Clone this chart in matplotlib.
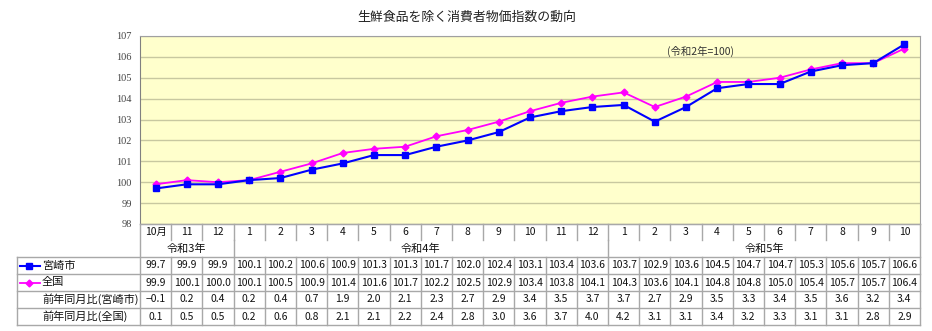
import numpy as np
import matplotlib.pyplot as plt

plt.rcParams['font.family'] = ['Noto Sans CJK JP', 'DejaVu Sans']

months = ['10月', '11', '12', '1', '2', '3', '4', '5', '6', '7', '8', '9', '10', '11', '12',
          '1', '2', '3', '4', '5', '6', '7', '8', '9', '10']
years = [('令和3年', 0, 2), ('令和4年', 3, 14), ('令和5年', 15, 24)]

miyazaki = [99.7, 99.9, 99.9, 100.1, 100.2, 100.6, 100.9, 101.3, 101.3, 101.7, 102.0, 102.4,
            103.1, 103.4, 103.6, 103.7, 102.9, 103.6, 104.5, 104.7, 104.7, 105.3, 105.6, 105.7, 106.6]
zenkoku = [99.9, 100.1, 100.0, 100.1, 100.5, 100.9, 101.4, 101.6, 101.7, 102.2, 102.5, 102.9,
           103.4, 103.8, 104.1, 104.3, 103.6, 104.1, 104.8, 104.8, 105.0, 105.4, 105.7, 105.7, 106.4]
yoy_miyazaki = [-0.1, 0.2, 0.4, 0.2, 0.4, 0.7, 1.9, 2.0, 2.1, 2.3, 2.7, 2.9,
                3.4, 3.5, 3.7, 3.7, 2.7, 2.9, 3.5, 3.3, 3.4, 3.5, 3.6, 3.2, 3.4]
yoy_zenkoku = [0.1, 0.5, 0.5, 0.2, 0.6, 0.8, 2.1, 2.1, 2.2, 2.4, 2.8, 3.0,
               3.6, 3.7, 4.0, 4.2, 3.1, 3.1, 3.4, 3.2, 3.3, 3.1, 3.1, 2.8, 2.9]

W, H = 932, 331
fig = plt.figure(figsize=(W / 100, H / 100), dpi=100)

# pixel layout
left, right = 140, 920
top, bottom = 36, 224
n = len(months)

ax = fig.add_axes([left / W, 1 - bottom / H, (right - left) / W, (bottom - top) / H])
ax.set_facecolor('#FFFFCC')
x = np.arange(n)
ax.plot(x, zenkoku, color='#FF00FF', lw=1.3, marker='D', ms=3.5, zorder=3)
ax.plot(x, miyazaki, color='#0000FF', lw=1.5, marker='s', ms=5, zorder=4)
ax.set_xlim(-0.5, n - 0.5)
ax.set_ylim(98, 107)
ax.set_yticks(range(98, 108))
ax.set_xticks([])
ax.grid(axis='y', color='#C8C8A0', lw=1)
ax.set_axisbelow(True)
ax.tick_params(axis='y', length=0, pad=6, labelsize=7.5, labelcolor='#444444')
for lab in ax.get_yticklabels():
    lab.set_family('Liberation Serif')
for s in ['top', 'right']:
    ax.spines[s].set_color('#A0A0A0')
ax.spines['bottom'].set_color('#A0A0A0')
ax.spines['left'].set_color('#808080')
ax.text(0.718, 0.95, '(令和2年=100)', transform=ax.transAxes, fontsize=7.5,
        color='#333333', ha='center', va='top')

fig.text(467 / W, 1 - 17 / H, '生鮮食品を除く消費者物価指数の動向', ha='center', va='center',
         fontsize=9.3, color='#222222')

# table drawn in pixel coordinates
tab = fig.add_axes([0, 0, 1, 1])
tab.set_xlim(0, W)
tab.set_ylim(H, 0)
tab.axis('off')

cw = (right - left) / n
label_left = 17
rows_y = [224, 240, 257, 274, 291, 308, 325]
lc = '#A8A8A8'

# horizontal lines
tab.plot([left, right], [rows_y[0], rows_y[0]], color=lc, lw=1)
for yy in rows_y[2:]:
    tab.plot([label_left, right], [yy, yy], color=lc, lw=1)
# outer verticals
tab.plot([left, left], [rows_y[0], rows_y[-1]], color=lc, lw=1)
tab.plot([right, right], [rows_y[0], rows_y[-1]], color=lc, lw=1)
tab.plot([label_left, label_left], [rows_y[2], rows_y[-1]], color=lc, lw=1)
# month separators
for i in range(1, n):
    xx = left + i * cw
    tab.plot([xx, xx], [rows_y[0], rows_y[1]], color=lc, lw=1)
    tab.plot([xx, xx], [rows_y[2], rows_y[-1]], color=lc, lw=1)
for name, a, b in years[1:]:
    xx = left + a * cw
    tab.plot([xx, xx], [rows_y[1], rows_y[2]], color=lc, lw=1)

def mid(r):
    return (rows_y[r] + rows_y[r + 1]) / 2

tc = '#111111'
fs = 7.5
for i, m in enumerate(months):
    cx = left + (i + 0.5) * cw
    tab.text(cx, mid(0), m, ha='center', va='center', fontsize=fs, color=tc)
    tab.text(cx, mid(2), f'{miyazaki[i]:.1f}', ha='center', va='center', fontsize=fs, color=tc)
    tab.text(cx, mid(3), f'{zenkoku[i]:.1f}', ha='center', va='center', fontsize=fs, color=tc)
    tab.text(cx, mid(4), f'{yoy_miyazaki[i]:.1f}'.replace('-', '\u2212'), ha='center',
             va='center', fontsize=fs, color=tc)
    tab.text(cx, mid(5), f'{yoy_zenkoku[i]:.1f}', ha='center', va='center', fontsize=fs, color=tc)
for name, a, b in years:
    cx = left + (a + b + 1) / 2 * cw
    tab.text(cx, mid(1), name, ha='center', va='center', fontsize=8, color=tc)

# legend keys in the label column
tab.plot([20, 40], [mid(2), mid(2)], color='#0000FF', lw=1.5)
tab.plot([29], [mid(2)], color='#0000FF', marker='s', ms=5)
tab.plot([20, 40], [mid(3), mid(3)], color='#FF00FF', lw=1.3)
tab.plot([29], [mid(3)], color='#FF00FF', marker='D', ms=3.5)
tab.text(42, mid(2), '宮崎市', ha='left', va='center', fontsize=8, color=tc)
tab.text(42, mid(3), '全国', ha='left', va='center', fontsize=8, color=tc)
tab.text(42, mid(4), '前年同月比(宮崎市)', ha='left', va='center', fontsize=8, color=tc)
tab.text(42, mid(5), '前年同月比(全国)', ha='left', va='center', fontsize=8, color=tc)

fig.savefig('out.png', dpi=100, facecolor='white')
